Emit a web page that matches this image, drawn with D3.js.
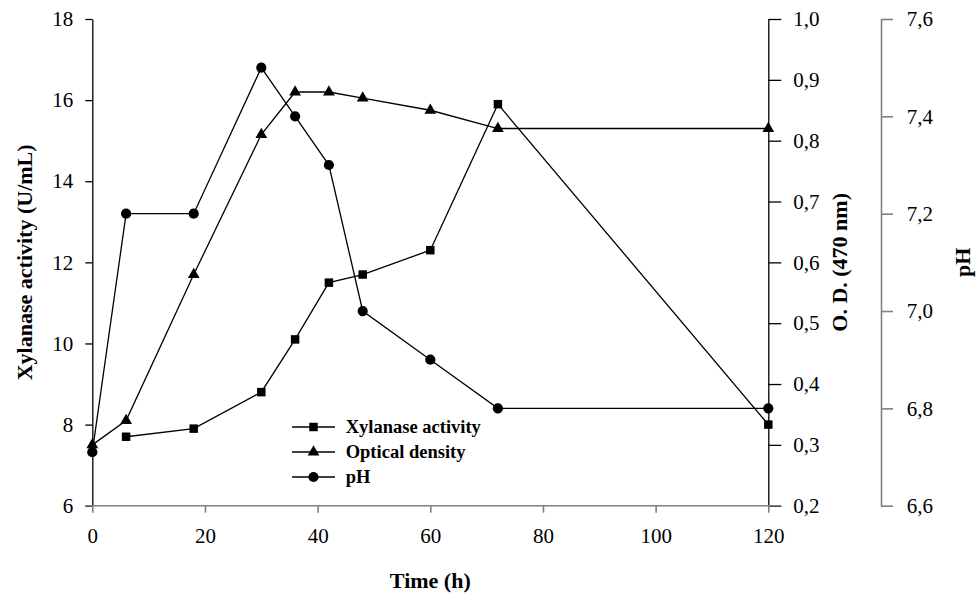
<!DOCTYPE html>
<html>
<head>
<meta charset="utf-8">
<script src="https://cdn.jsdelivr.net/npm/d3@7"></script>
<style>
  body { margin: 0; background: #fff; }
  svg text { font-family: "Liberation Serif", "Times New Roman", serif; fill: #000; }
  .axis text { font-size: 21px; }
  .axis-title { font-size: 22px; font-weight: bold; }
  .legend text { font-size: 18.5px; font-weight: bold; }
</style>
</head>
<body>
<svg id="chart" width="979" height="599"></svg>
<script>
// Sampling times (h)
const time = [0, 6, 18, 30, 36, 42, 48, 60, 72, 120];
// Xylanase activity (U/mL) - no point at t=0
const xylanase = [null, 7.7, 7.9, 8.8, 10.1, 11.5, 11.7, 12.3, 15.9, 8.0];
// Optical density (470 nm)
const opticalDensity = [0.30, 0.34, 0.58, 0.81, 0.88, 0.88, 0.87, 0.85, 0.82, 0.82];
// pH
const ph = [6.71, 7.2, 7.2, 7.5, 7.4, 7.3, 7.0, 6.9, 6.8, 6.8];

const xTicks = [0, 20, 40, 60, 80, 100, 120];
const xylTicks = [6, 8, 10, 12, 14, 16, 18];
const odTicks = [0.2, 0.3, 0.4, 0.5, 0.6, 0.7, 0.8, 0.9, 1.0];
const phTicks = [6.6, 6.8, 7.0, 7.2, 7.4, 7.6];

const legendLabels = ["Xylanase activity", "Optical density", "pH"];

const plotLeft = 92.3, plotRight = 768.3, plotTop = 19, plotBottom = 505.7;
const phAxisX = 881;

const svg = d3.select("#chart");

const x = d3.scaleLinear().domain([0, 120]).range([plotLeft, plotRight]);
const yXyl = d3.scaleLinear().domain([6, 18]).range([plotBottom, plotTop]);
const yOd = d3.scaleLinear().domain([0.2, 1.0]).range([plotBottom, plotTop]);
const yPh = d3.scaleLinear().domain([6.6, 7.6]).range([plotBottom, plotTop]);

// comma as decimal separator
const locale = d3.formatLocale({ decimal: ",", thousands: ".", grouping: [3], currency: ["", ""] });
const fmt1 = locale.format(".1f");

function styleAxis(g, color, width) {
  g.select(".domain").attr("stroke", color).attr("stroke-width", width);
  g.selectAll(".tick line").attr("stroke", color).attr("stroke-width", width);
  g.selectAll(".tick text").attr("fill", "#000");
  g.attr("font-family", null).attr("font-size", null);
}

// left axis
svg.append("g")
  .attr("class", "axis")
  .attr("transform", "translate(" + plotLeft + ",0)")
  .call(d3.axisLeft(yXyl).tickValues(xylTicks).tickSize(7).tickSizeOuter(0).tickPadding(12))
  .call(g => styleAxis(g, "#000", 1.3));

// O.D. axis
svg.append("g")
  .attr("class", "axis")
  .attr("transform", "translate(" + plotRight + ",0)")
  .call(d3.axisRight(yOd).tickValues(odTicks).tickFormat(fmt1).tickSize(13).tickSizeOuter(0).tickPadding(12))
  .call(g => styleAxis(g, "#000", 1.3));

// pH axis
svg.append("g")
  .attr("class", "axis")
  .attr("transform", "translate(" + phAxisX + ",0)")
  .call(d3.axisRight(yPh).tickValues(phTicks).tickFormat(fmt1).tickSize(12).tickSizeOuter(0).tickPadding(13.7))
  .call(g => styleAxis(g, "#808080", 1.6));

// x axis (gray line, drawn over the bottom ticks)
const xAxis = svg.append("g")
  .attr("class", "axis")
  .attr("transform", "translate(0," + plotBottom + ")")
  .call(d3.axisBottom(x).tickValues(xTicks).tickSize(7).tickSizeOuter(0).tickPadding(15))
  .call(g => styleAxis(g, "#808080", 1.6));
xAxis.select(".domain").attr("d", "M" + (plotLeft - 7) + ",0H" + (plotRight + 13));

// axis titles
svg.append("text")
  .attr("class", "axis-title")
  .attr("text-anchor", "middle")
  .attr("x", (plotLeft + plotRight) / 2)
  .attr("y", 588)
  .text("Time (h)");

svg.append("text")
  .attr("class", "axis-title")
  .attr("text-anchor", "middle")
  .attr("transform", "translate(31.7," + (plotTop + plotBottom) / 2 + ") rotate(-90)")
  .text("Xylanase activity (U/mL)");

svg.append("text")
  .attr("class", "axis-title")
  .attr("text-anchor", "middle")
  .attr("transform", "translate(846.7," + (plotTop + plotBottom) / 2 + ") rotate(-90)")
  .text("O. D. (470 nm)");

svg.append("text")
  .attr("class", "axis-title")
  .attr("text-anchor", "middle")
  .attr("transform", "translate(970," + (plotTop + plotBottom) / 2 + ") rotate(-90)")
  .text("pH");

// series
const series = [
  { values: xylanase, y: yXyl, shape: d3.symbolSquare, size: 72 },
  { values: opticalDensity, y: yOd, shape: d3.symbolTriangle, size: 60 },
  { values: ph, y: yPh, shape: d3.symbolCircle, size: 82 }
];

series.forEach(s => {
  const pts = time.map((t, i) => [t, s.values[i]]).filter(d => d[1] != null);
  const line = d3.line().x(d => x(d[0])).y(d => s.y(d[1]));

  svg.append("path")
    .datum(pts)
    .attr("fill", "none")
    .attr("stroke", "#000")
    .attr("stroke-width", 1.3)
    .attr("d", line);

  svg.selectAll(null)
    .data(pts)
    .enter().append("path")
    .attr("transform", d => "translate(" + x(d[0]) + "," + s.y(d[1]) + ")")
    .attr("d", d3.symbol().type(s.shape).size(s.size))
    .attr("fill", "#000");
});

// legend
const legend = svg.append("g").attr("class", "legend");
const legendY = [427, 452, 477];
series.forEach((s, i) => {
  const row = legend.append("g").attr("transform", "translate(292," + legendY[i] + ")");
  row.append("line")
    .attr("x1", 0).attr("x2", 43)
    .attr("stroke", "#000").attr("stroke-width", 1.3);
  row.append("path")
    .attr("transform", "translate(21.5,0)")
    .attr("d", d3.symbol().type(s.shape).size(s.size))
    .attr("fill", "#000");
  row.append("text")
    .attr("x", 53.7)
    .attr("dy", "0.35em")
    .text(legendLabels[i]);
});
</script>
</body>
</html>
